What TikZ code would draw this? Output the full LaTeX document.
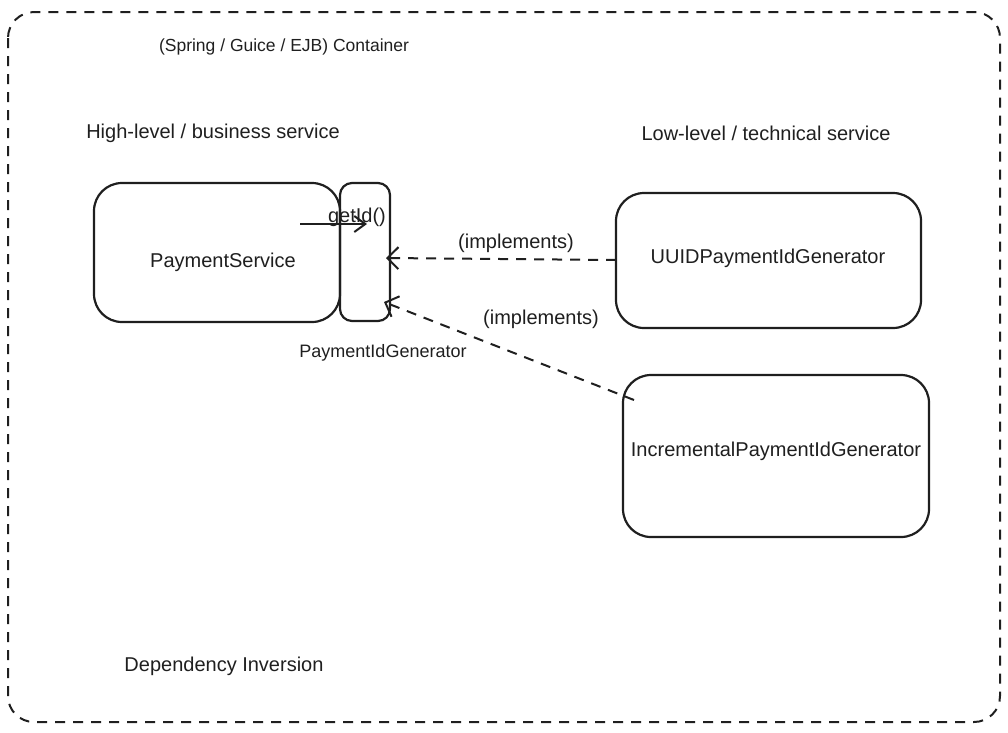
\documentclass[tikz,border=0pt]{standalone}
\usepackage{fontspec}
\setmainfont{Liberation Sans}
\usetikzlibrary{arrows.meta,calc}
\tikzset{
  box/.style={draw=black!88, line width=2.2pt, rounded corners=28pt, inner sep=0pt},
  lbl/.style={font=\fontsize{20}{24}\selectfont, inner sep=0pt, text=black!88},
  dep/.style={draw=black!88, line width=2pt, dash pattern=on 10pt off 8pt, -{Straight Barb[length=11pt,width=22pt,line width=2pt]}},
  call/.style={draw=black!88, line width=2.4pt, -{Straight Barb[length=11pt,width=16pt,line width=2pt]}}
}
\begin{document}
\begin{tikzpicture}[x=1pt,y=-1pt]
\useasboundingbox (0,0) rectangle (1008,732);
\draw[draw=black!88, line width=2pt, dash pattern=on 10pt off 8pt, rounded corners=26pt] (8,12) rectangle (1000,722);
\node[lbl, font=\fontsize{17.5}{21}\selectfont] (title) at (284,47) {(Spring / Guice / EJB) Container};
\node[lbl] (high) at (213,133) {High-level / business service};
\node[lbl] (low) at (766,133) {Low-level / technical service};
\node[box, minimum width=246pt, minimum height=139pt] (ps) at (217,252.5) {};
\node[lbl] at (223,262) {PaymentService};
\node[box, rounded corners=12pt, minimum width=50pt, minimum height=138pt] (pig) at (365,252) {};
\node[lbl, font=\fontsize{18}{22}\selectfont] (piglbl) at (383,353) {PaymentIdGenerator};
\node[box, minimum width=305pt, minimum height=135pt] (uuid) at (768.5,260.5) {};
\node[lbl] at (768,258) {UUIDPaymentIdGenerator};
\node[box, minimum width=306pt, minimum height=162pt] (incr) at (776,456) {};
\node[lbl] (incrlbl) at (776,451) {IncrementalPaymentIdGenerator};
\coordinate (callS) at (300,224);
\coordinate (callE) at (367,224);
\draw[call] (callS) -- (callE);
\node[lbl] (getid) at (357,217) {getId()};
\coordinate (uuidS) at (616,260);
\coordinate (uuidE) at (386,258);
\draw[dep] (uuidS) -- (uuidE);
\node[lbl] (impl1) at (516,243) {(implements)};
\coordinate (incrS) at (634,400);
\coordinate (incrE) at (384,302);
\draw[dep] (incrS) -- (incrE);
\node[lbl] (impl2) at (541,319) {(implements)};
\node[lbl] (dep) at (224,666) {Dependency Inversion};
\end{tikzpicture}
\end{document}
